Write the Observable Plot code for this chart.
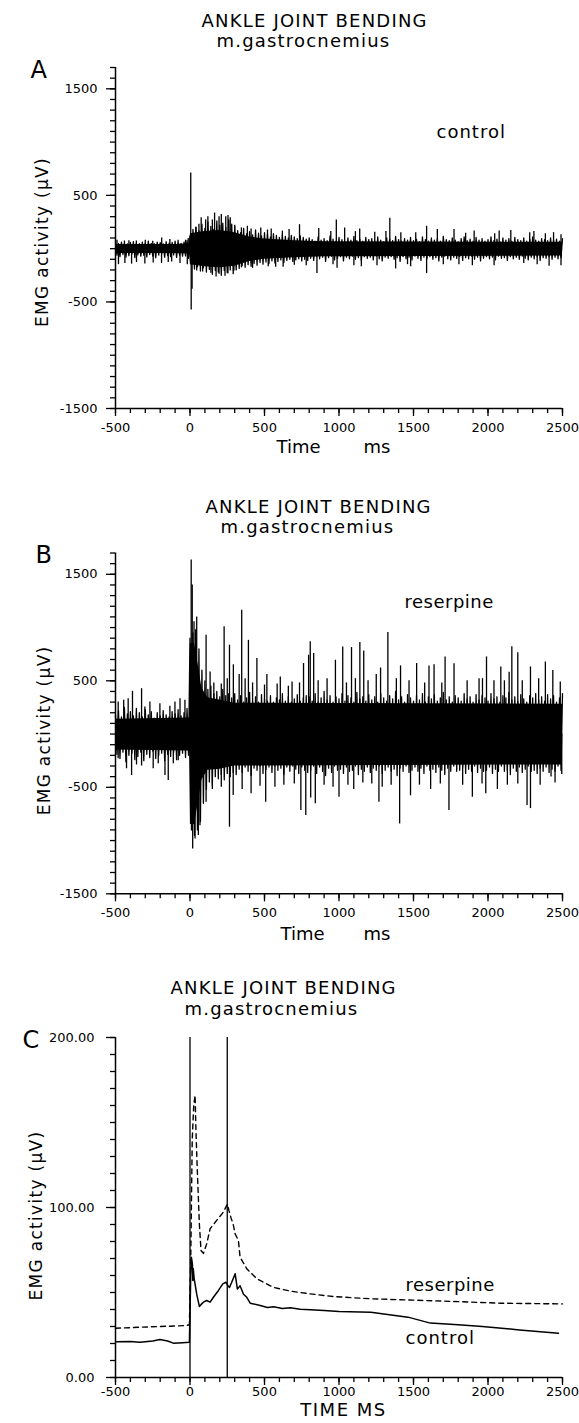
<!DOCTYPE html>
<html><head><meta charset="utf-8">
<script src="https://cdn.jsdelivr.net/npm/d3@7"></script>
<script src="https://cdn.jsdelivr.net/npm/@observablehq/plot@0.6"></script>
<style>
body{margin:0;background:#fff;}
#chart svg{display:block;}
</style></head><body><div id="chart"></div>
<script>
// ---------- tick labels / texts ----------
const xMajor = [-500, 0, 500, 1000, 1500, 2000, 2500];
const yMajorAB = [-1500, -500, 500, 1500];
const yMajorC = [0, 100, 200];
const titleText = "ANKLE JOINT BENDING";
const subtitleText = "m.gastrocnemius";
const yLabelText = "EMG activity (µV)";

// ---------- dense core of the raw EMG band [t ms, upper µV, lower µV] ----------
const coreA = [[-500,40,-45],[-100,40,-45],[-3,45,-50],[3,140,-150],[100,160,-170],[200,170,-180],[300,150,-165],[400,110,-120],[500,90,-100],[700,75,-85],[900,65,-75],[2500,60,-70]];
const coreB = [[-500,140,-150],[-3,150,-160],[3,850,-850],[30,850,-850],[55,650,-650],[80,430,-430],[120,340,-340],[200,320,-330],[300,290,-300],[2500,280,-290]];

// ---------- raw EMG envelope, read every 20 ms from -500 ms (maxima) and -490 ms (minima) ----------
const hiA = [55,48,62,50,45,58,66,52,47,60,55,70,50,48,62,57,45,65,52,58,70,55,50,62,75,
120,
180,200,170,230,190,250,210,180,260,220,240,200,270,230,
210,170,150,190,140,160,130,175,145,120,150,135,110,140,125,105,130,115,100,125,110,95,120,105,90,
100,85,70,110,80,95,75,120,90,70,105,85,65,100,80,115,75,90,70,105,
85,95,70,110,80,65,100,90,75,115,85,70,95,80,105,75,90,65,110,85,
70,100,80,95,70,115,85,75,100,80,65,95,110,75,90,70,105,80,95,70,
85,110,75,90,65,100,80,95,70,105,85,75,100,70,90,110,80,70,95,85,
75,100,80,90,70,95];
const loA = [-60,-75,-55,-80,-65,-50,-85,-58,-70,-62,-78,-55,-70,-85,-60,-52,-80,-65,-75,-58,-82,-60,-70,-68,-90,
-150,
-190,-170,-210,-180,-220,-195,-240,-205,-220,-250,-205,-225,-200,-235,
-200,-185,-160,-175,-150,-165,-140,-155,-130,-145,-125,-140,-115,-135,-120,-105,-130,-110,-100,-120,-105,-95,-115,-100,-110,
-90,-110,-75,-95,-80,-120,-85,-70,-105,-90,-75,-115,-80,-95,-70,-100,-85,-110,-75,-90,
-80,-105,-70,-95,-115,-80,-90,-75,-100,-85,-120,-75,-95,-80,-105,-70,-90,-110,-80,-95,
-75,-100,-85,-115,-80,-70,-95,-105,-80,-90,-75,-110,-85,-95,-70,-100,-80,-115,-90,-75,
-95,-80,-105,-70,-90,-85,-110,-75,-95,-80,-100,-70,-90,-105,-80,-95,-75,-110,-85,-90,
-75,-100,-80,-95,-85];
const hiB = [180,220,160,250,190,210,170,240,200,160,230,180,210,150,200,170,220,180,160,210,190,230,170,200,240,
900,
950,900,800,600,500,420,450,380,400,350,420,360,380,340,
380,320,360,300,340,390,310,350,300,370,330,310,360,300,340,320,380,310,350,300,330,370,310,340,360,
350,310,380,300,340,400,320,360,300,350,330,380,310,360,340,300,390,330,350,310,
370,320,350,300,380,340,310,360,330,400,320,350,300,370,340,310,360,320,380,300,
350,330,370,310,340,390,320,350,300,360,340,310,380,330,350,300,370,320,360,340,
310,380,330,350,300,360,340,390,320,350,310,370,330,300,360,340,380,320,350,310,
370,330,360,300,340,380];
const loB = [-190,-230,-170,-260,-200,-180,-240,-210,-170,-250,-190,-220,-160,-230,-200,-180,-250,-190,-210,-170,-240,-200,-180,-220,-200,
-900,
-950,-900,-820,-650,-520,-450,-480,-400,-420,-380,-430,-370,-400,-360,
-380,-330,-360,-310,-350,-390,-320,-340,-300,-370,-330,-310,-360,-300,-340,-320,-380,-310,-350,-300,-330,-370,-310,-340,-360,
-340,-300,-370,-310,-350,-390,-320,-360,-300,-340,-330,-370,-310,-350,-340,-300,-380,-330,-350,-310,
-360,-320,-340,-300,-370,-340,-310,-350,-330,-390,-320,-350,-300,-360,-340,-310,-350,-320,-370,-300,
-340,-330,-360,-310,-340,-380,-320,-350,-300,-350,-340,-310,-370,-330,-350,-300,-360,-320,-350,-340,
-310,-370,-330,-350,-300,-350,-340,-380,-320,-350,-310,-360,-330,-300,-350,-340,-370,-320,-350,-310,
-360,-330,-350,-300,-340];

// ---------- tall spikes [t ms, µV] ----------
const upA = [[-490,80],[-440,72],[-410,75],[-360,72],[-300,78],[-250,70],[-190,100],[-135,85],[-80,78],[-30,80],[-12,95],
[5,710],[40,200],[60,230],[75,290],[105,270],[120,300],[150,270],[165,334],[195,300],[210,320],[240,300],[255,310],[270,290],[300,220],[345,195],[385,210],[410,185],[475,194],[520,175],[545,185],[620,165],[665,180],[735,225],
[864,190],[945,160],[982,270],[1038,195],[1110,160],[1139,185],[1240,155],[1315,160],[1341,285],[1415,150],[1515,150],[1588,210],[1660,180],[1772,180],[1850,145],[1907,165],[2045,140],[2075,165],[2153,170],[2280,150],[2308,160],[2385,140],[2440,150],[2490,130]];
const dnA = [[-480,-150],[-437,-140],[-392,-145],[-359,-130],[-303,-145],[-247,-135],[-191,-140],[-146,-130],[-123,-125],[-67,-140],[-18,-150],
[8,-575],[14,-380],[45,-210],[85,-220],[140,-230],[175,-266],[195,-240],[235,-260],[255,-235],[295,-210],[345,-180],[420,-185],[525,-170],[575,-175],[625,-175],[700,-155],[780,-160],
[852,-234],[960,-150],[987,-185],[1100,-160],[1150,-170],[1255,-160],[1380,-190],[1460,-150],[1481,-170],[1588,-234],[1700,-150],[1805,-150],[1895,-160],[2041,-160],[2240,-140],[2330,-150],[2410,-166],[2490,-160]];
const upB = [[-482,300],[-445,317],[-415,332],[-386,401],[-325,426],[-303,254],[-269,300],[-202,285],[-135,260],[-101,300],[-67,332],[-34,317],
[8,1634],[15,1400],[27,1054],[38,980],[45,1100],[108,928],[135,583],[160,480],[210,470],[229,1007],[250,520],[265,834],[291,650],[330,560],[347,1163],[370,520],[392,880],[420,480],[449,710],[500,460],[516,560],[585,470],[606,536],[660,450],[685,489],[735,480],[762,662],[796,740],
[807,866],[830,756],[860,500],[920,520],[976,693],[1025,818],[1050,480],[1084,812],[1110,520],[1140,860],[1166,780],[1195,500],[1250,560],[1279,620],[1328,953],[1385,520],[1413,640],[1470,500],[1521,662],[1575,480],[1604,640],[1638,650],[1690,480],[1712,724],[1772,660],[1860,500],[1940,520],[1963,520],[1990,724],[2040,500],[2086,630],[2110,500],[2142,580],[2160,819],[2200,763],[2230,500],[2285,630],[2340,520],[2385,676],[2435,597],[2485,488]];
const dnB = [[-482,-232],[-426,-326],[-392,-389],[-359,-290],[-325,-300],[-247,-326],[-213,-280],[-168,-389],[-146,-436],[-112,-280],[-79,-250],
[18,-1079],[34,-985],[56,-953],[67,-860],[108,-640],[150,-520],[210,-500],[265,-875],[290,-577],[350,-520],[410,-560],[470,-490],[508,-640],[570,-500],[630,-480],[700,-470],[744,-718],[777,-765],
[810,-600],[841,-655],[900,-480],[960,-500],[1000,-593],[1060,-480],[1099,-520],[1160,-460],[1220,-470],[1268,-640],[1290,-500],[1350,-480],[1407,-844],[1480,-580],[1540,-480],[1615,-520],[1680,-470],[1738,-718],[1830,-480],[1895,-593],[1960,-470],[1985,-560],[2063,-520],[2130,-480],[2200,-470],[2262,-670],[2285,-700],[2350,-480],[2423,-403],[2450,-460],[2495,-380]];

// ---------- Panel C (averaged, rectified) ----------
const ctrlT = [-500,-400,-336,-250,-202,-150,-112,-50,-4,5,9,16,19,22,28,34,45,63,75,90,112,135,157,191,220,242,255,265,280,303,318,336,359,381,404,471,520,561,620,673,740,807,900,1000,1214,1463,1613,1800,1962,2211,2473];
const ctrlV = [21,21.2,20.8,21.5,22.4,21.5,20.2,20.5,20.8,60,70.8,67,57,64,58,55,49,41.8,43,44.3,45.3,44.3,47.2,51.2,55.1,56,54,53,56,61,52,54,49,47.2,43.7,42.4,41.2,41.6,40.6,41,40.2,39.8,39.4,38.8,38.4,35.5,32,31,30,28,26];
const resT = [-500,-400,-336,-200,-100,-22,-4,5,15,25,34,40,49,63,74,90,112,135,179,224,251,262,274,290,303,325,336,381,449,561,673,807,964,1214,1711,2086,2500];
const resV = [29,29.3,29.6,30,30.3,30.6,31,70,140,160,166,145,121.8,90,74.7,73,78.6,87.5,92.4,97.3,102,98,94.3,90,84.5,80.6,70.8,64,58,53,50.8,49.2,47.6,46.3,44.9,43.7,43.3];
const cEvents = [0, 250];

// ---------- helpers ----------
const FONT = "DejaVu Sans, Verdana, sans-serif";
const txt = (s, anchor, dx, dy, size, opts = {}) =>
  Plot.text([s], {text: d => d, frameAnchor: anchor, dx, dy, fontSize: size, lineAnchor: "bottom", textAnchor: "start", fill: "black", ...opts});

// alternate maxima (at t) and minima (at t + 10 ms) into one trace
function trace(hi, lo) {
  const pts = [];
  hi.forEach((h, i) => {
    const t = -500 + 20 * i;
    pts.push({t, v: h});
    if (i < lo.length) pts.push({t: t + 10, v: lo[i]});
  });
  return pts;
}

function emgMarks(core, hi, lo, up, dn) {
  return [
    Plot.areaY(core, {x: d => d[0], y1: d => d[2], y2: d => d[1], fill: "black"}),
    Plot.line(trace(hi, lo), {x: "t", y: "v", stroke: "black", strokeWidth: 1.3}),
    Plot.ruleX(up, {x: d => d[0], y1: 0, y2: d => d[1], stroke: "black", strokeWidth: 1.3}),
    Plot.ruleX(dn, {x: d => d[0], y1: 0, y2: d => d[1], stroke: "black", strokeWidth: 1.3})
  ];
}

const fmtInt = d => d < 0 ? "-" + (-d) : String(d);

function panel({height, marginTop, marginBottom, yDomain, yStep, yMajor, yFmt, yPad, xPad, marks, texts}) {
  return Plot.plot({
    width: 579, height, marginLeft: 115, marginRight: 17, marginTop, marginBottom,
    style: {fontFamily: FONT, fontSize: "13px", background: "white", color: "black", overflow: "visible"},
    x: {domain: [-500, 2500], axis: null, label: null},
    y: {domain: yDomain, axis: null, label: null},
    marks: [
      ...marks,
      Plot.ruleX([-500], {stroke: "black", strokeWidth: 1.5}),
      Plot.ruleY([yDomain[0]], {stroke: "black", strokeWidth: 1.5}),
      Plot.axisY(d3.range(yDomain[0], yDomain[1] + 1e-9, yStep), {tickSize: 5, tickFormat: () => "", label: null, strokeWidth: 1.3}),
      Plot.axisY(yMajor, {tickSize: 9, tickPadding: yPad, tickFormat: yFmt, label: null, strokeWidth: 1.3}),
      Plot.axisX(d3.range(-500, 2501, 100), {tickSize: 5, tickFormat: () => "", label: null, strokeWidth: 1.3}),
      Plot.axisX(xMajor, {tickSize: 8, tickPadding: xPad, tickFormat: fmtInt, label: null, strokeWidth: 1.3}),
      ...texts
    ]
  });
}

const chart = document.getElementById("chart");

// Panel A
chart.appendChild(panel({
  height: 470, marginTop: 67, marginBottom: 62,
  yDomain: [-1500, 1700], yStep: 100, yMajor: yMajorAB, yFmt: fmtInt, yPad: 9, xPad: 6,
  marks: emgMarks(coreA, hiA, loA, upA, dnA),
  texts: [
    txt(titleText, "top-left", 86, -41, 18),
    txt(subtitleText, "top-left", 101, -21, 18),
    txt("A", "top-left", -85, 10, 24),
    txt("control", "top-left", 321, 70, 18),
    txt("Time", "bottom-left", 161, 44.7, 18),
    txt("ms", "bottom-left", 248, 44.7, 18),
    txt(yLabelText, "left", -68, 4, 17, {rotate: -90, textAnchor: "middle"})
  ]
}));

// Panel B
chart.appendChild(panel({
  height: 480, marginTop: 82.5, marginBottom: 56.7,
  yDomain: [-1500, 1700], yStep: 100, yMajor: yMajorAB, yFmt: fmtInt, yPad: 9, xPad: 6,
  marks: emgMarks(coreB, hiB, loB, upB, dnB),
  texts: [
    txt(titleText, "top-left", 90, -40.5, 18),
    txt(subtitleText, "top-left", 105, -20.5, 18),
    txt("B", "top-left", -80, 9.5, 24),
    txt("reserpine", "top-left", 289, 54.5, 18),
    txt("Time", "bottom-left", 165, 45.7, 18),
    txt("ms", "bottom-left", 248, 45.7, 18),
    txt(yLabelText, "left", -66, 7, 17, {rotate: -90, textAnchor: "middle"})
  ]
}));

// Panel C
const ctrl = ctrlT.map((t, i) => ({t, v: ctrlV[i]}));
const res = resT.map((t, i) => ({t, v: resV[i]}));
chart.appendChild(panel({
  height: 473, marginTop: 87, marginBottom: 46,
  yDomain: [0, 200], yStep: 10, yMajor: yMajorC, yFmt: d => d.toFixed(2), yPad: 12, xPad: 1.5,
  marks: [
    Plot.ruleX(cEvents, {stroke: "black", strokeWidth: 1.3}),
    Plot.line(res, {x: "t", y: "v", stroke: "black", strokeWidth: 1.4, strokeDasharray: "5,4"}),
    Plot.line(ctrl, {x: "t", y: "v", stroke: "black", strokeWidth: 1.5})
  ],
  texts: [
    txt(titleText, "top-left", 55, -44, 18),
    txt(subtitleText, "top-left", 69, -23, 18),
    txt("C", "top-left", -93, 10, 24),
    txt("reserpine", "top-left", 290, 253, 18),
    txt("control", "top-left", 290, 306, 18),
    txt("TIME MS", "bottom-left", 228, 38, 18, {textAnchor: "middle"}),
    txt(yLabelText, "left", -74, 8, 17, {rotate: -90, textAnchor: "middle"})
  ]
}));

// letter spacing tweaks (styling only)
const spacing = {"ANKLE JOINT BENDING": 1.2, "m.gastrocnemius": 1.2, "control": 1, "reserpine": 0.5, "TIME MS": 1.5, "EMG activity (µV)": 1.3};
d3.selectAll("#chart text").each(function () {
  const s = spacing[this.textContent];
  if (s != null) this.setAttribute("letter-spacing", s);
});
</script></body></html>
